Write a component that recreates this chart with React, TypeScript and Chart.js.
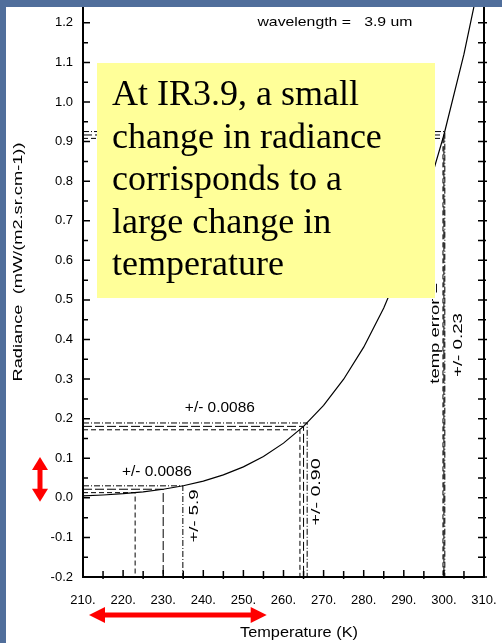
import React, { useEffect, useRef } from "react";
import { Chart, registerables } from "chart.js";

Chart.register(...registerables);

// ---- data ----
const temperatures = [210, 215, 220, 225, 230, 235, 240, 245, 250, 255, 260, 265, 270, 275, 280, 285, 290, 295, 300, 305, 310];
const radiance = [0.0047, 0.0071, 0.0105, 0.0152, 0.0217, 0.0305, 0.0423, 0.058, 0.0783, 0.1046, 0.1382, 0.1805, 0.2336, 0.2997, 0.3806, 0.4795, 0.5999, 0.7438, 0.9167, 1.1208, 1.362];

// error bands: radiance levels (centre -/+ 0.0086) and the temperatures where the curve meets them
const lowLevels = [0.0131, 0.0217, 0.0303];
const lowTemps = [223.0, 230.0, 234.9];
const midLevels = [0.1719, 0.1805, 0.1891];
const midTemps = [264.1, 265.0, 265.9];
const highLevels = [0.9081, 0.9167, 0.9253];
const highTemps = [299.77, 300.0, 300.23];

const xTicks = [210, 220, 230, 240, 250, 260, 270, 280, 290, 300, 310];
const xMinorTicks = [215, 225, 235, 245, 255, 265, 275, 285, 295, 305];
const yTicks = [-0.2, -0.1, 0.0, 0.1, 0.2, 0.3, 0.4, 0.5, 0.6, 0.7, 0.8, 0.9, 1.0, 1.1, 1.2];
const yMinorTicks = [-0.15, -0.05, 0.05, 0.15, 0.25, 0.35, 0.45, 0.55, 0.65, 0.75, 0.85, 0.95, 1.05, 1.15];

const X_MIN = 210;
const X_MAX = 310;
const Y_MIN = -0.2;
const Y_MAX = 1.24;

const boxLines = ["At IR3.9, a small", "change in radiance", "corrisponds to a", "large change in", "temperature"];

// annotation labels anchored in data units
const wavelengthLabel = { text: "wavelength =   3.9 um", x: 253.5, y: 1.2 };
const upperErrLabel = { text: "+/- 0.0086", x: 235.4, y: 0.227 };
const lowerErrLabel = { text: "+/- 0.0086", x: 219.7, y: 0.065 };
const lowTempLabel = { text: "+/- 5.9", x: 237.9, y: -0.046 };
const midTempLabel = { text: "+/- 0.90", x: 268.2, y: 0.015 };
const highTempLabel1 = { text: "temp error =", x: 297.8, y: 0.416 };
const highTempLabel2 = { text: "+/- 0.23", x: 303.5, y: 0.386 };
const vArrowRange = [0.103, -0.01];
const hArrowRange = [211.5, 255.8];

const FONT = '"Liberation Sans", Arial, Helvetica, sans-serif';
const SERIF = '"Liberation Serif", "Times New Roman", Times, serif';

const dashes = [[5, 3], [9, 3], [6, 2, 1, 2]];

function lShape(level: number, temp: number) {
  return [
    { x: X_MIN, y: level },
    { x: temp, y: level },
    { x: temp, y: Y_MIN },
  ];
}

function buildDatasets() {
  const ds: any[] = [
    {
      label: "radiance",
      data: temperatures.map((t, i) => ({ x: t, y: radiance[i] })),
      borderColor: "#000",
      borderWidth: 1.2,
      pointRadius: 0,
      showLine: true,
      fill: false,
    },
  ];
  const groups = [
    [lowLevels, lowTemps],
    [midLevels, midTemps],
    [highLevels, highTemps],
  ];
  groups.forEach(([levels, temps]) => {
    levels.forEach((lv, k) => {
      ds.push({
        label: "err",
        data: lShape(lv, temps[k]),
        borderColor: "#000",
        borderWidth: 1,
        borderDash: dashes[k],
        pointRadius: 0,
        showLine: true,
        fill: false,
      });
    });
  });
  return ds;
}

function drawText(
  ctx: CanvasRenderingContext2D,
  text: string,
  x: number,
  y: number,
  size: number,
  len: number | null,
  rot: number,
  align: CanvasTextAlign,
  family = FONT
) {
  ctx.save();
  ctx.font = `${size}px ${family}`;
  const w = ctx.measureText(text).width;
  const k = len ? len / w : 1;
  ctx.translate(x, y);
  if (rot) ctx.rotate(rot);
  ctx.scale(k, 1);
  ctx.textAlign = align;
  ctx.textBaseline = "middle";
  ctx.fillStyle = "#000";
  ctx.fillText(text, 0, 0);
  ctx.restore();
}

function doubleArrow(
  ctx: CanvasRenderingContext2D,
  x1: number,
  y1: number,
  x2: number,
  y2: number,
  shaft: number,
  headLen: number,
  headHalf: number
) {
  const dx = x2 - x1;
  const dy = y2 - y1;
  const L = Math.hypot(dx, dy);
  const ux = dx / L;
  const uy = dy / L;
  const px = -uy;
  const py = ux;
  ctx.save();
  ctx.fillStyle = "#ff0000";
  ctx.strokeStyle = "#ff0000";
  ctx.lineWidth = shaft;
  ctx.beginPath();
  ctx.moveTo(x1 + ux * (headLen - 2), y1 + uy * (headLen - 2));
  ctx.lineTo(x2 - ux * (headLen - 2), y2 - uy * (headLen - 2));
  ctx.stroke();
  const head = (tx: number, ty: number, dir: number) => {
    const bx = tx + dir * ux * headLen;
    const by = ty + dir * uy * headLen;
    ctx.beginPath();
    ctx.moveTo(tx, ty);
    ctx.lineTo(bx + px * headHalf, by + py * headHalf);
    ctx.lineTo(bx - px * headHalf, by - py * headHalf);
    ctx.closePath();
    ctx.fill();
  };
  head(x1, y1, 1);
  head(x2, y2, -1);
  ctx.restore();
}

const backgroundPlugin = {
  id: "slideBackground",
  beforeDraw(chart: any) {
    const ctx = chart.ctx as CanvasRenderingContext2D;
    ctx.save();
    ctx.fillStyle = "rgb(80,110,155)";
    ctx.fillRect(0, 0, chart.width, chart.height);
    ctx.fillStyle = "#ffffff";
    ctx.fillRect(6, 7, chart.width - 6, chart.height - 7);
    ctx.restore();
  },
};

const axesPlugin = {
  id: "axesFrame",
  afterDatasetsDraw(chart: any) {
    const ctx = chart.ctx as CanvasRenderingContext2D;
    const { left, right, top, bottom } = chart.chartArea;
    const xs = chart.scales.x;
    const ys = chart.scales.y;
    ctx.save();
    ctx.strokeStyle = "#000";
    ctx.lineWidth = 2;
    ctx.beginPath();
    ctx.moveTo(left, top);
    ctx.lineTo(left, bottom);
    ctx.lineTo(right, bottom);
    ctx.lineTo(right, top);
    ctx.stroke();
    ctx.lineWidth = 1.5;
    ctx.beginPath();
    yTicks.forEach((v) => {
      const y = ys.getPixelForValue(v);
      ctx.moveTo(left, y);
      ctx.lineTo(left + 7, y);
      ctx.moveTo(right - 6, y);
      ctx.lineTo(right + 3, y);
    });
    yMinorTicks.forEach((v) => {
      const y = ys.getPixelForValue(v);
      ctx.moveTo(left, y);
      ctx.lineTo(left + 5, y);
      ctx.moveTo(right - 6, y);
      ctx.lineTo(right + 2, y);
    });
    xTicks.forEach((v) => {
      const x = xs.getPixelForValue(v);
      ctx.moveTo(x, bottom);
      ctx.lineTo(x, bottom - 7);
    });
    xMinorTicks.forEach((v) => {
      const x = xs.getPixelForValue(v);
      ctx.moveTo(x, bottom + 2);
      ctx.lineTo(x, bottom - 6);
    });
    ctx.stroke();
    ctx.restore();
  },
  afterDraw(chart: any) {
    const ctx = chart.ctx as CanvasRenderingContext2D;
    const { left, right, top, bottom } = chart.chartArea;
    const xs = chart.scales.x;
    const ys = chart.scales.y;
    const X = (v: number) => xs.getPixelForValue(v);
    const Y = (v: number) => ys.getPixelForValue(v);

    // in-chart labels
    drawText(ctx, wavelengthLabel.text, X(wavelengthLabel.x), Y(wavelengthLabel.y), 13, 155, 0, "left");
    drawText(ctx, upperErrLabel.text, X(upperErrLabel.x), Y(upperErrLabel.y), 14, 70, 0, "left");
    drawText(ctx, lowerErrLabel.text, X(lowerErrLabel.x), Y(lowerErrLabel.y), 14, 70, 0, "left");
    const R = -Math.PI / 2;
    drawText(ctx, lowTempLabel.text, X(lowTempLabel.x), Y(lowTempLabel.y), 13, 53, R, "center");
    drawText(ctx, midTempLabel.text, X(midTempLabel.x), Y(midTempLabel.y), 13, 67, R, "center");
    drawText(ctx, highTempLabel1.text, X(highTempLabel1.x), Y(highTempLabel1.y), 13, 101, R, "center");
    drawText(ctx, highTempLabel2.text, X(highTempLabel2.x), Y(highTempLabel2.y), 13, 64, R, "center");

    // axis titles
    drawText(ctx, "Radiance  (mW/(m2.sr.cm-1))", 18, 262, 13, 239, R, "center");
    drawText(ctx, "Temperature (K)", 299, 633, 15, 118, 0, "center");

    // yellow text box (slide overlay)
    ctx.save();
    ctx.fillStyle = "#ffff99";
    ctx.fillRect(97, 63, 338, 235);
    ctx.restore();
    boxLines.forEach((line, i) => {
      ctx.save();
      ctx.font = `36px ${SERIF}`;
      ctx.fillStyle = "#000";
      ctx.textAlign = "left";
      ctx.textBaseline = "alphabetic";
      ctx.fillText(line, 112, 105 + i * 42.5);
      ctx.restore();
    });

    // red arrows
    doubleArrow(ctx, left - 43, Y(vArrowRange[0]), left - 43, Y(vArrowRange[1]), 5, 13, 8);
    doubleArrow(ctx, X(hArrowRange[0]), bottom + 38, X(hArrowRange[1]), bottom + 38, 5, 16, 8);
  },
};

export default function App() {
  const ref = useRef<HTMLCanvasElement>(null);
  useEffect(() => {
    const canvas = ref.current;
    if (!canvas) return;
    const tickFont = { family: FONT, size: 13 };
    const chart = new Chart(canvas, {
      type: "scatter",
      data: { datasets: buildDatasets() },
      options: {
        animation: false,
        responsive: false,
        devicePixelRatio: 1,
        layout: { padding: { top: 7, right: 18, left: 0, bottom: 0 } },
        plugins: { legend: { display: false }, tooltip: { enabled: false } },
        scales: {
          x: {
            type: "linear",
            min: X_MIN,
            max: X_MAX,
            grid: { display: false, drawTicks: false },
            border: { display: false },
            afterBuildTicks: (s: any) => {
              s.ticks = xTicks.map((v) => ({ value: v }));
            },
            afterFit: (s: any) => {
              s.height = 66;
              s.paddingLeft = 0;
              s.paddingRight = 0;
            },
            ticks: {
              autoSkip: false,
              maxRotation: 0,
              padding: 16,
              color: "#000",
              font: tickFont,
              callback: (v: any) => `${Number(v)}.`,
            },
          },
          y: {
            type: "linear",
            min: Y_MIN,
            max: Y_MAX,
            grid: { display: false, drawTicks: false },
            border: { display: false },
            afterBuildTicks: (s: any) => {
              s.ticks = yTicks.map((v) => ({ value: v }));
            },
            afterFit: (s: any) => {
              s.width = 83;
              s.paddingTop = 0;
              s.paddingBottom = 0;
            },
            ticks: {
              autoSkip: false,
              padding: 10,
              color: "#000",
              font: tickFont,
              callback: (v: any) => Number(v).toFixed(1),
            },
          },
        },
      },
      plugins: [backgroundPlugin, axesPlugin],
    } as any);
    return () => chart.destroy();
  }, []);
  return (
    <div style={{ position: "fixed", left: 0, top: 0, width: 502, height: 643 }}>
      <canvas ref={ref} width={502} height={643} style={{ display: "block", width: 502, height: 643 }} />
    </div>
  );
}
